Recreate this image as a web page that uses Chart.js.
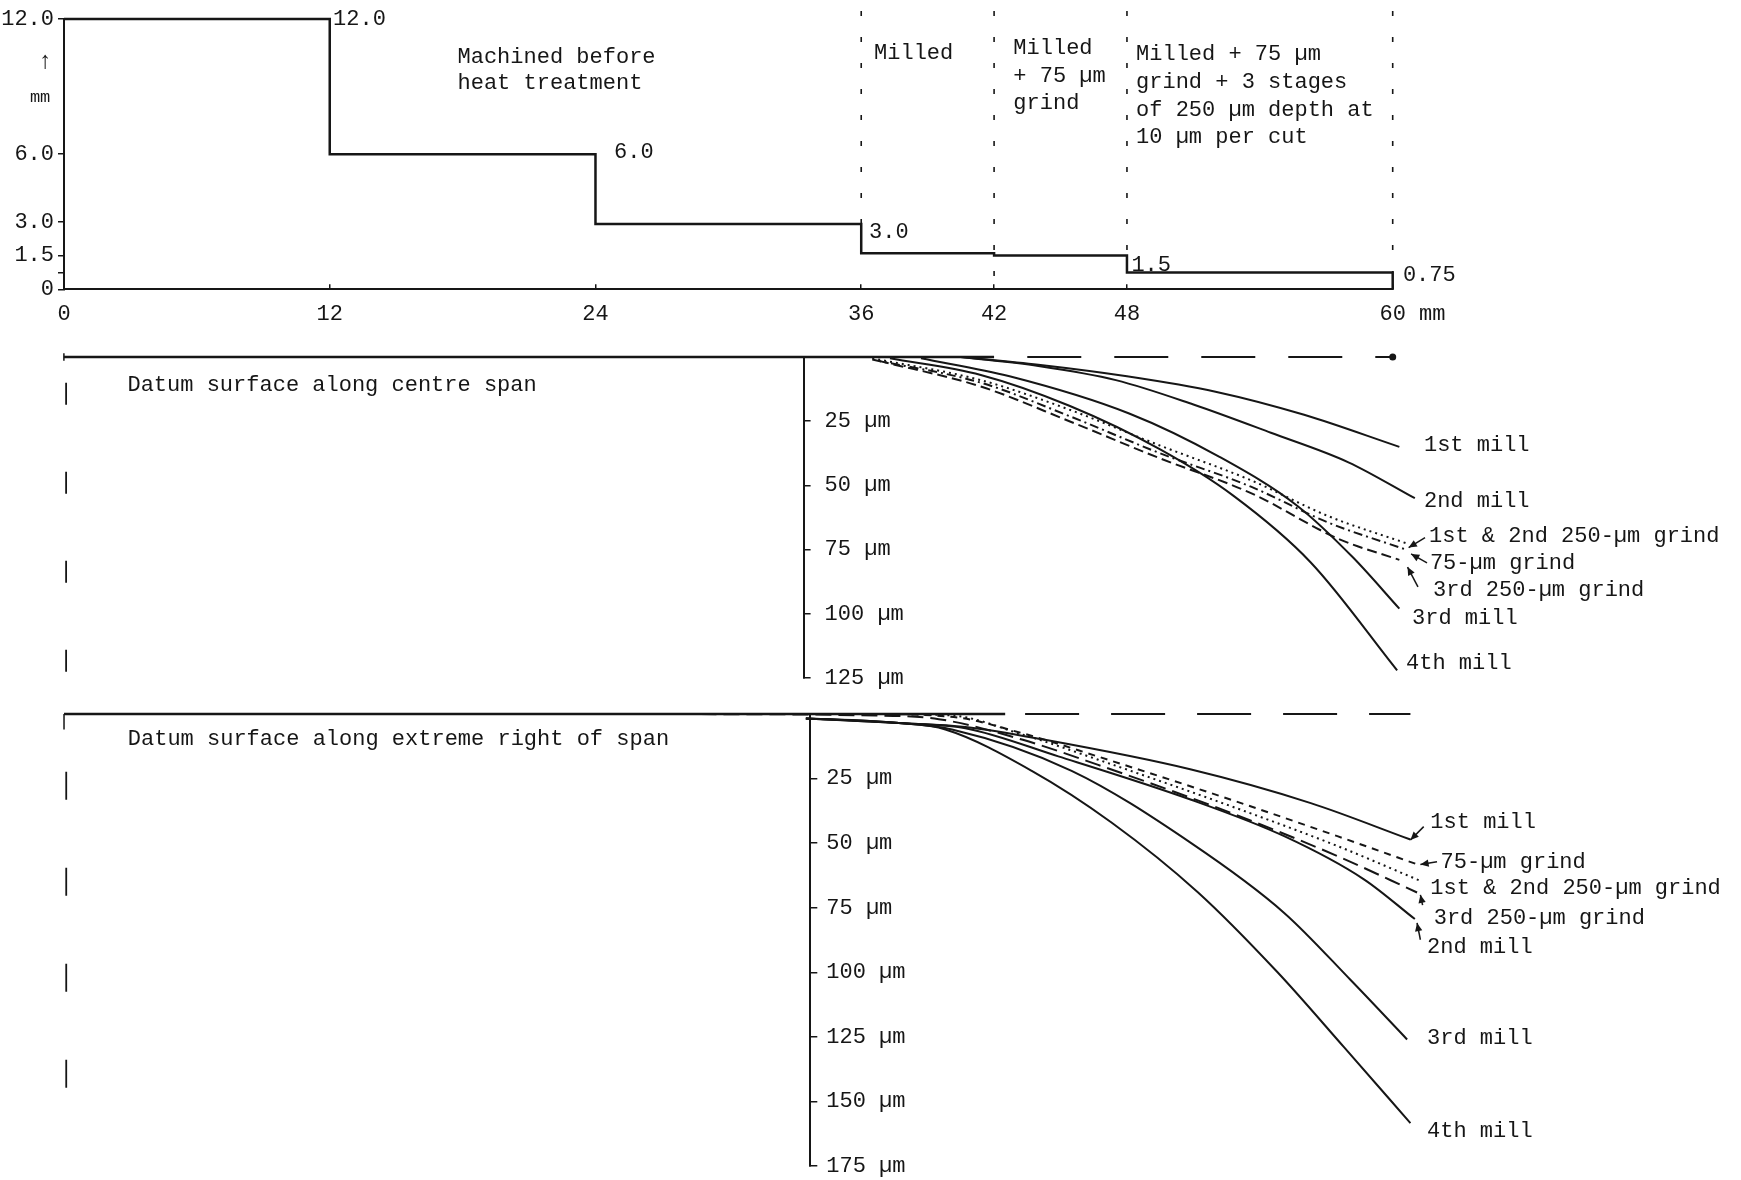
<!DOCTYPE html>
<html>
<head>
<meta charset="utf-8">
<script src="https://cdn.jsdelivr.net/npm/chart.js@4.4.1/dist/chart.umd.min.js"></script>
<style>
  html, body { margin: 0; padding: 0; background: #ffffff; }
  body { width: 1741px; height: 1180px; position: relative; overflow: hidden; }
  canvas { position: absolute; left: 0; }
</style>
</head>
<body>
<canvas id="topPanel" width="1741" height="340" style="top:0px"></canvas>
<canvas id="midPanel" width="1741" height="370" style="top:330px"></canvas>
<canvas id="botPanel" width="1741" height="485" style="top:695px"></canvas>
<script>
// ---------------- TOP PANEL: specimen thickness profile (mm) ----------------
const stepStartMm     = [0, 12, 24, 36, 42, 48, 60];
const stepThicknessMm = [12, 6, 2.9, 1.6, 1.5, 0.75, 0];
const topXTicks  = [0, 12, 24, 36, 42, 48, 60];
const topXLabels = ['0', '12', '24', '36', '42', '48', '   60 mm'];
const topYTicks  = [0, 0.75, 1.5, 3, 6, 12];
const topYLabels = ['0', '', '1.5', '3.0', '6.0', '12.0'];
const zoneBoundsMm  = [36, 42, 48, 60];
const zoneLineFloor = [2.9, 0, 1.5, 0.75];
const zoneLineTop   = 12.35;

// ---------------- MIDDLE PANEL: centre span distortion (µm) ----------------
const midTicks = [25, 50, 75, 100, 125];
const midMill1X = [40.5, 44.0, 48.0, 52.0, 56.0, 60.3];
const midMill1Y = [0, 3.0, 7.5, 13.5, 22.5, 35];
const midMill2X = [40.5, 44.0, 47.5, 51.0, 54.5, 58.0, 61.0];
const midMill2Y = [0, 3.5, 9, 18.5, 29.5, 41, 55];
const midMill3X = [38.7, 42.7, 48.1, 52.2, 55.7, 58.2, 60.3];
const midMill3Y = [0.5, 7.5, 22, 39, 58, 78, 98];
const midMill4X = [37.3, 41.4, 45.4, 49.5, 52.8, 56.3, 60.2];
const midMill4Y = [0.5, 7, 19, 36, 54, 80, 122];
const midGrind12X = [36.5, 41.4, 45.4, 49.5, 53.6, 57.1, 60.6];
const midGrind12Y = [0.5, 9, 20.5, 34.5, 48, 62, 72.5];
const midGrind75X = [36.5, 41.4, 45.4, 49.5, 53.6, 57.1, 60.6];
const midGrind75Y = [1, 10, 23, 37.5, 50.5, 64.5, 75];
const midGrind3X  = [36.8, 41.4, 45.4, 49.5, 53.6, 57.6, 60.3];
const midGrind3Y  = [1.5, 11.5, 25, 39.5, 53, 71, 79];

// ---------------- BOTTOM PANEL: extreme right of span (µm) ----------------
const botTicks = [25, 50, 75, 100, 125, 150, 175];
const botMill1X = [27.7, 33.5, 37.7, 40.7, 44.3, 50.9, 56.3, 60.8];
const botMill1Y = [0, 1.7, 3.5, 5, 10, 21.5, 34.5, 48.6];
const botMill2X = [27.7, 33.5, 37.7, 40.7, 44.9, 50.9, 55.1, 58.7, 61.0];
const botMill2Y = [0, 1.7, 3.5, 5.5, 16.4, 33.2, 47.3, 64, 79.4];
const botMill3X = [27.7, 33.5, 37.7, 40.1, 45.5, 50.9, 55.1, 58.1, 60.65];
const botMill3Y = [0, 1.7, 3.5, 6, 22, 50, 77, 103, 126];
const botMill4X = [27.7, 33.5, 37.7, 39.8, 43.7, 47.3, 51.2, 54.8, 57.8, 60.8];
const botMill4Y = [0, 1.7, 3.5, 6, 22, 42, 69, 100, 129, 158.4];
const botGrind75X = [27.7, 36, 40, 43.3, 46.7, 52.7, 57.5, 61.1];
const botGrind75Y = [0, 0, 1, 7.5, 16.5, 33.2, 47.3, 58.2];
const botGrind12X = [27.7, 36, 40, 43.3, 46.7, 52.7, 57.5, 61.25];
const botGrind12Y = [0, 0, 0.5, 8, 17.7, 35.7, 51.1, 64.6];
const botGrind3X  = [27.7, 36, 39.5, 43.3, 46.7, 52.7, 57.5, 61.1];
const botGrind3Y  = [0, 0.5, 2, 10, 19.7, 38.3, 55, 69.1];

// datum / reference lines (x in mm, y in µm)
const midDatumSolidX = [0, 42];
const midDatumDashX  = [43.5, 60];
const midEdgeMarksY  = [10, 123.5];
const botDatumSolidX = [0, 42.5];
const botDatumDashX  = [43.4, 60.8];
const botEdgeMarksY  = [22.4, 147];
const botCornerY     = [0, 6];

// ---------------- styling ----------------
const INK = '#161616';
const FONT = '"Liberation Mono", "DejaVu Sans Mono", monospace';
Chart.defaults.font.family = FONT;
Chart.defaults.font.size = 22;
Chart.defaults.color = INK;

const pts = (xs, ys) => xs.map((x, i) => ({ x: x, y: ys[i] }));
const curve = (xs, ys, dash) => ({
  data: pts(xs, ys), borderColor: INK, borderWidth: 2, borderDash: dash || [],
  pointRadius: 0, clip: false, fill: false, cubicInterpolationMode: 'monotone'
});
const straight = (xs, ys, dash, w) => ({
  data: pts(xs, ys), borderColor: INK, borderWidth: w || 2, borderDash: dash || [],
  pointRadius: 0, clip: false, fill: false, tension: 0
});

function notes(texts, arrows) {
  return {
    id: 'notes',
    afterDatasetsDraw(chart) {
      const ctx = chart.ctx, sx = chart.scales.x, sy = chart.scales.y;
      ctx.save();
      ctx.fillStyle = INK; ctx.strokeStyle = INK; ctx.lineWidth = 1.5;
      ctx.textBaseline = 'middle';
      texts.forEach(t => {
        ctx.font = (t.size || 22) + 'px ' + FONT;
        ctx.textAlign = t.align || 'left';
        ctx.fillText(t.text, sx.getPixelForValue(t.x), sy.getPixelForValue(t.y));
      });
      arrows.forEach(a => {
        const x1 = sx.getPixelForValue(a[0]), y1 = sy.getPixelForValue(a[1]);
        const x2 = sx.getPixelForValue(a[2]), y2 = sy.getPixelForValue(a[3]);
        ctx.beginPath(); ctx.moveTo(x1, y1); ctx.lineTo(x2, y2); ctx.stroke();
        const ang = Math.atan2(y2 - y1, x2 - x1), L = 9, W = 0.42;
        ctx.beginPath(); ctx.moveTo(x2, y2);
        ctx.lineTo(x2 - L * Math.cos(ang - W), y2 - L * Math.sin(ang - W));
        ctx.lineTo(x2 - L * Math.cos(ang + W), y2 - L * Math.sin(ang + W));
        ctx.closePath(); ctx.fill();
      });
      ctx.restore();
    }
  };
}
const zeroPad = s => { s.paddingTop = 0; s.paddingBottom = 0; s.paddingLeft = 0; s.paddingRight = 0; };
const baseOpts = {
  responsive: false, maintainAspectRatio: false, animation: false, devicePixelRatio: 1, events: [],
  plugins: { legend: { display: false }, tooltip: { enabled: false } }
};

// ---------------- TOP CHART ----------------
const topNotes = [
  { text: '12.0', x: 12.15, y: 12.0 },
  { text: '6.0', x: 24.84, y: 6.09 },
  { text: '3.0', x: 36.35, y: 2.54 },
  { text: '1.5', x: 48.2, y: 1.08 },
  { text: '0.75', x: 60.46, y: 0.64 },
  { text: 'Machined before', x: 17.77, y: 10.3 },
  { text: 'heat treatment', x: 17.77, y: 9.15 },
  { text: 'Milled', x: 36.58, y: 10.49 },
  { text: 'Milled', x: 42.87, y: 10.71 },
  { text: '+ 75 µm', x: 42.87, y: 9.47 },
  { text: 'grind', x: 42.87, y: 8.27 },
  { text: 'Milled + 75 µm', x: 48.41, y: 10.44 },
  { text: 'grind + 3 stages', x: 48.41, y: 9.2 },
  { text: 'of 250 µm depth at', x: 48.41, y: 7.96 },
  { text: '10 µm per cut', x: 48.41, y: 6.76 },
  { text: '↑', x: -0.86, y: 10.09, align: 'center', size: 24 },
  { text: 'mm', x: -1.08, y: 8.53, align: 'center', size: 17 }
];
new Chart(document.getElementById('topPanel'), {
  type: 'line',
  data: {
    datasets: [
      Object.assign(straight(stepStartMm, stepThicknessMm, [], 2.5), { stepped: 'before' })
    ].concat(zoneBoundsMm.map((b, i) => straight([b, b], [zoneLineTop, zoneLineFloor[i]], [5, 21], 1.6)))
  },
  options: Object.assign({}, baseOpts, {
    layout: { padding: { left: 0, top: 19, right: 348.3, bottom: 0 } },
    scales: {
      x: {
        type: 'linear', min: 0, max: 60, position: 'bottom',
        afterBuildTicks: s => { s.ticks = topXTicks.map(v => ({ value: v })); },
        afterFit: s => { s.height = 50.7; zeroPad(s); },
        ticks: { autoSkip: false, maxRotation: 0, minRotation: 0, padding: 16.5,
                 callback: (v, i) => topXLabels[i] },
        grid: { drawOnChartArea: false, drawTicks: true, tickLength: -5, color: INK, lineWidth: 1.5 },
        border: { display: true, color: INK, width: 2 }
      },
      y: {
        type: 'linear', min: 0, max: 12, position: 'left',
        afterBuildTicks: s => { s.ticks = topYTicks.map(v => ({ value: v })); },
        afterFit: s => { s.width = 64; zeroPad(s); },
        ticks: { autoSkip: false, padding: 4, callback: (v, i) => topYLabels[i] },
        grid: { drawOnChartArea: false, drawTicks: true, tickLength: 6, color: INK, lineWidth: 1.5 },
        border: { display: true, color: INK, width: 2 }
      }
    }
  }),
  plugins: [notes(topNotes, [])]
});

// ---------------- MIDDLE CHART ----------------
const midNotes = [
  { text: 'Datum surface along centre span', x: 2.87, y: 10.9 },
  { text: '1st mill', x: 61.41, y: 34.2 },
  { text: '2nd mill', x: 61.41, y: 56.3 },
  { text: '1st & 2nd 250-µm grind', x: 61.64, y: 69.9 },
  { text: '75-µm grind', x: 61.68, y: 80.2 },
  { text: '3rd 250-µm grind', x: 61.82, y: 90.7 },
  { text: '3rd mill', x: 60.87, y: 101.6 },
  { text: '4th mill', x: 60.6, y: 119.1 }
];
const midArrows = [
  [61.46, 70.3, 60.72, 74.2],
  [61.55, 80.2, 60.83, 76.7],
  [61.14, 89.5, 60.67, 81.8]
];
const midDash = straight(midDatumDashX, [0, 0], [54, 33], 2.2);
midDash.pointRadius = [0, 3.5];
midDash.pointBackgroundColor = INK;
midDash.pointBorderWidth = 0;
new Chart(document.getElementById('midPanel'), {
  type: 'line',
  data: {
    datasets: [
      straight(midDatumSolidX, [0, 0], [], 2.5),
      midDash,
      straight([0.1, 0.1], midEdgeMarksY, [22, 67], 1.8),
      straight([0, 0], [-1.5, 1.5], [], 1.5),
      curve(midMill1X, midMill1Y),
      curve(midMill2X, midMill2Y),
      curve(midMill3X, midMill3Y),
      curve(midMill4X, midMill4Y),
      curve(midGrind12X, midGrind12Y, [2, 4]),
      curve(midGrind75X, midGrind75Y, [9, 4, 2, 4]),
      curve(midGrind3X, midGrind3Y, [10, 5])
    ]
  },
  options: Object.assign({}, baseOpts, {
    layout: { padding: { left: 803.6, top: 27, right: 304, bottom: 22 } },
    scales: {
      x: { type: 'linear', display: false, min: 33.4, max: 62 },
      y: {
        type: 'linear', reverse: true, min: 0, max: 125, position: 'left',
        afterBuildTicks: s => { s.ticks = midTicks.map(v => ({ value: v })); },
        afterFit: s => { s.width = 0; zeroPad(s); },
        ticks: { autoSkip: false, mirror: true, padding: 21, callback: v => v + ' µm' },
        grid: { drawOnChartArea: false, drawTicks: true, tickLength: -7, color: INK, lineWidth: 1.5 },
        border: { display: true, color: INK, width: 2 }
      }
    }
  }),
  plugins: [notes(midNotes, midArrows)]
});

// ---------------- BOTTOM CHART ----------------
const botNotes = [
  { text: 'Datum surface along extreme right of span', x: 2.88, y: 9.9 },
  { text: '1st mill', x: 61.7, y: 41.7 },
  { text: '75-µm grind', x: 62.16, y: 57.2 },
  { text: '1st & 2nd 250-µm grind', x: 61.7, y: 67.5 },
  { text: '3rd 250-µm grind', x: 61.85, y: 79.1 },
  { text: '2nd mill', x: 61.55, y: 90.1 },
  { text: '3rd mill', x: 61.55, y: 125.6 },
  { text: '4th mill', x: 61.55, y: 161.7 }
];
const botArrows = [
  [61.4, 43.6, 60.8, 48.8],
  [62.0, 57.2, 61.25, 58.3],
  [61.35, 74, 61.25, 70],
  [61.25, 87.4, 61.1, 80.9]
];
new Chart(document.getElementById('botPanel'), {
  type: 'line',
  data: {
    datasets: [
      straight(botDatumSolidX, [0, 0], [], 2.5),
      straight(botDatumDashX, [0, 0], [54, 32], 2.2),
      straight([0.1, 0.1], botEdgeMarksY, [28, 68], 1.8),
      straight([0, 0], botCornerY, [], 1.5),
      curve(botMill1X, botMill1Y),
      curve(botMill2X, botMill2Y),
      curve(botMill3X, botMill3Y),
      curve(botMill4X, botMill4Y),
      curve(botGrind75X, botGrind75Y, [7, 6]),
      curve(botGrind12X, botGrind12Y, [2, 4]),
      curve(botGrind3X, botGrind3Y, [16, 7])
    ]
  },
  options: Object.assign({}, baseOpts, {
    layout: { padding: { left: 810.3, top: 19, right: 304, bottom: 14 } },
    scales: {
      x: { type: 'linear', display: false, min: 33.7, max: 62 },
      y: {
        type: 'linear', reverse: true, min: 0, max: 175, position: 'left',
        afterBuildTicks: s => { s.ticks = botTicks.map(v => ({ value: v })); },
        afterFit: s => { s.width = 0; zeroPad(s); },
        ticks: { autoSkip: false, mirror: true, padding: 16, callback: v => v + ' µm' },
        grid: { drawOnChartArea: false, drawTicks: true, tickLength: -7, color: INK, lineWidth: 1.5 },
        border: { display: true, color: INK, width: 2 }
      }
    }
  }),
  plugins: [notes(botNotes, botArrows)]
});
</script>
</body>
</html>
